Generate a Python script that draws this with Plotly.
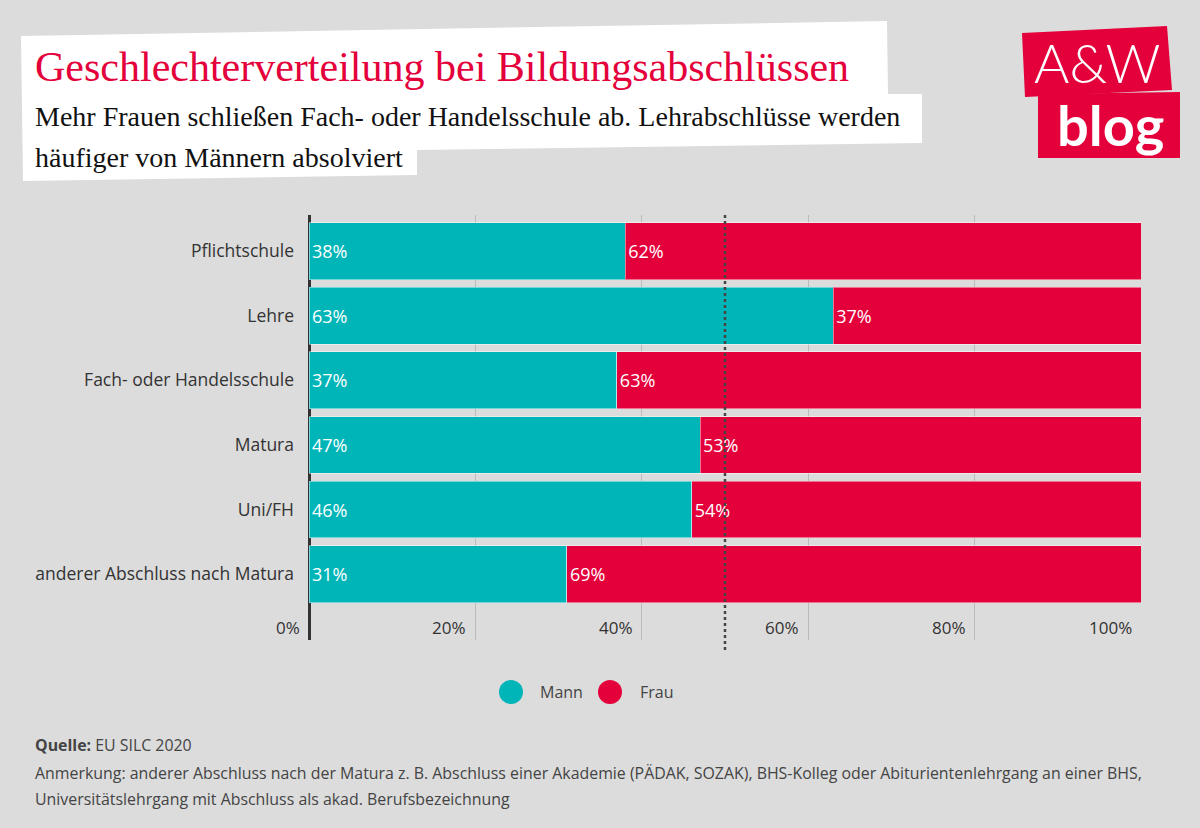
import plotly.graph_objects as go

categories = ["Pflichtschule", "Lehre", "Fach- oder Handelsschule", "Matura", "Uni/FH",
              "anderer Abschluss nach Matura"]
mann = [38, 63, 37, 47, 46, 31]
frau = [62, 37, 63, 53, 54, 69]
x_ticks = [0, 20, 40, 60, 80, 100]
x_tick_labels = ["0%", "20%", "40%", "60%", "80%", "100%"]
reference_line = 50

TEAL = "#00B5B8"
RED = "#E4003B"
BG = "#DCDCDC"
SANS = "Open Sans"
SERIF = "Liberation Serif"

# plot area in pixels
L, T, R, B = 309, 215, 1141, 640
W, H = R - L, B - T


def X(px):
    return (px - L) / W


def Y(py):
    return 1 - (py - T) / H


def path(pts):
    s = "M " + " L ".join(f"{X(a):.5f} {Y(b):.5f}" for a, b in pts) + " Z"
    return s


fig = go.Figure()
fig.add_trace(go.Bar(
    y=categories, x=mann, name="Mann", orientation="h",
    marker=dict(color=TEAL, line=dict(color="rgba(255,255,255,0.45)", width=1)),
    text=[f"{v}%" for v in mann], textposition="inside", insidetextanchor="start",
    textfont=dict(color="white", size=18, family=SANS), showlegend=False,
    hoverinfo="skip",
))
fig.add_trace(go.Bar(
    y=categories, x=frau, name="Frau", orientation="h",
    marker=dict(color=RED, line=dict(color="rgba(255,255,255,0.45)", width=1)),
    text=[f"{v}%" for v in frau], textposition="inside", insidetextanchor="start",
    textfont=dict(color="white", size=18, family=SANS), showlegend=False,
    hoverinfo="skip",
))

shapes = []
# white title background
shapes.append(dict(type="path", xref="paper", yref="paper", layer="below",
                   path=path([(21, 36), (887, 21), (888, 94), (922, 94), (922, 143),
                              (417, 150), (417, 175), (23, 181)]),
                   fillcolor="white", line=dict(width=0)))
# logo boxes
shapes.append(dict(type="path", xref="paper", yref="paper",
                   path=path([(1022, 33), (1167, 26), (1172, 90), (1025, 97)]),
                   fillcolor=RED, line=dict(width=0)))
shapes.append(dict(type="path", xref="paper", yref="paper",
                   path=path([(1038, 94), (1180, 92), (1180, 158), (1038, 158)]),
                   fillcolor=RED, line=dict(width=0)))
# dotted reference line
shapes.append(dict(type="line", xref="x", yref="paper", x0=reference_line, x1=reference_line,
                   y0=1, y1=Y(652), line=dict(color="#444444", width=2.5, dash="dot"),
                   layer="above"))
# legend circles
shapes.append(dict(type="circle", xref="paper", yref="paper",
                   x0=X(499), x1=X(523), y0=Y(680), y1=Y(704),
                   fillcolor=TEAL, line=dict(width=0)))
shapes.append(dict(type="circle", xref="paper", yref="paper",
                   x0=X(598), x1=X(622), y0=Y(680), y1=Y(704),
                   fillcolor=RED, line=dict(width=0)))

annotations = []
for v, lab in zip(x_ticks, x_tick_labels):
    annotations.append(dict(x=v, y=0, xref="x", yref="paper", text=lab, showarrow=False,
                            xanchor="right", yanchor="bottom", xshift=-7, yshift=-1,
                            font=dict(size=17, color="#333333", family=SANS)))

annotations += [
    dict(x=X(33), y=Y(67), xref="paper", yref="paper", xanchor="left", yanchor="middle",
         text="Geschlechterverteilung bei Bildungsabschlüssen", showarrow=False,
         font=dict(size=42, color=RED, family=SERIF)),
    dict(x=X(33), y=Y(116), xref="paper", yref="paper", xanchor="left", yanchor="middle",
         text="Mehr Frauen schließen Fach- oder Handelsschule ab. Lehrabschlüsse werden",
         showarrow=False, font=dict(size=28, color="#111111", family=SERIF)),
    dict(x=X(33), y=Y(157), xref="paper", yref="paper", xanchor="left", yanchor="middle",
         text="häufiger von Männern absolviert",
         showarrow=False, font=dict(size=28, color="#111111", family=SERIF)),
    dict(x=X(1097), y=Y(62), xref="paper", yref="paper", xanchor="center", yanchor="middle",
         text="A&amp;W", showarrow=False,
         font=dict(size=54, color="white", family="Lato", weight=300)),
    dict(x=X(1110), y=Y(124), xref="paper", yref="paper", xanchor="center", yanchor="middle",
         text="<b>blog</b>", showarrow=False,
         font=dict(size=56, color="white", family="Lato")),
    dict(x=X(538), y=Y(692), xref="paper", yref="paper", xanchor="left", yanchor="middle",
         text="Mann", showarrow=False, font=dict(size=16, color="#444444", family=SANS)),
    dict(x=X(638), y=Y(692), xref="paper", yref="paper", xanchor="left", yanchor="middle",
         text="Frau", showarrow=False, font=dict(size=16, color="#444444", family=SANS)),
    dict(x=X(33), y=Y(745), xref="paper", yref="paper", xanchor="left", yanchor="middle",
         text="<b>Quelle:</b> EU SILC 2020", showarrow=False,
         font=dict(size=15.9, color="#444444", family=SANS)),
    dict(x=X(33), y=Y(773), xref="paper", yref="paper", xanchor="left", yanchor="middle",
         text="Anmerkung: anderer Abschluss nach der Matura z. B. Abschluss einer Akademie (PÄDAK, SOZAK), BHS-Kolleg oder Abiturientenlehrgang an einer BHS,",
         showarrow=False, font=dict(size=15.9, color="#444444", family=SANS)),
    dict(x=X(33), y=Y(799), xref="paper", yref="paper", xanchor="left", yanchor="middle",
         text="Universitätslehrgang mit Abschluss als akad. Berufsbezeichnung",
         showarrow=False, font=dict(size=15.9, color="#444444", family=SANS)),
]

fig.update_layout(
    width=1200, height=828,
    margin=dict(l=L, r=1200 - R, t=T, b=828 - B, pad=0),
    paper_bgcolor=BG, plot_bgcolor=BG,
    barmode="stack", bargap=0.12,
    showlegend=False,
    shapes=shapes, annotations=annotations,
    xaxis=dict(range=[0, 100], tickvals=x_ticks, showticklabels=False,
               showgrid=True, gridcolor="#BBBBBB", gridwidth=1,
               zeroline=True, zerolinecolor="#333333", zerolinewidth=3,
               showline=False, fixedrange=True),
    yaxis=dict(type="category", categoryorder="array", categoryarray=categories,
               range=[6.02, -0.56], showgrid=False, zeroline=False, showline=False,
               ticks="", ticklabelstandoff=14,
               tickfont=dict(size=17.5, color="#333333", family=SANS), fixedrange=True),
)

fig.write_html("out.html", config={"displayModeBar": False},
               post_script="document.body.style.margin='0';document.body.style.overflow='hidden';")
